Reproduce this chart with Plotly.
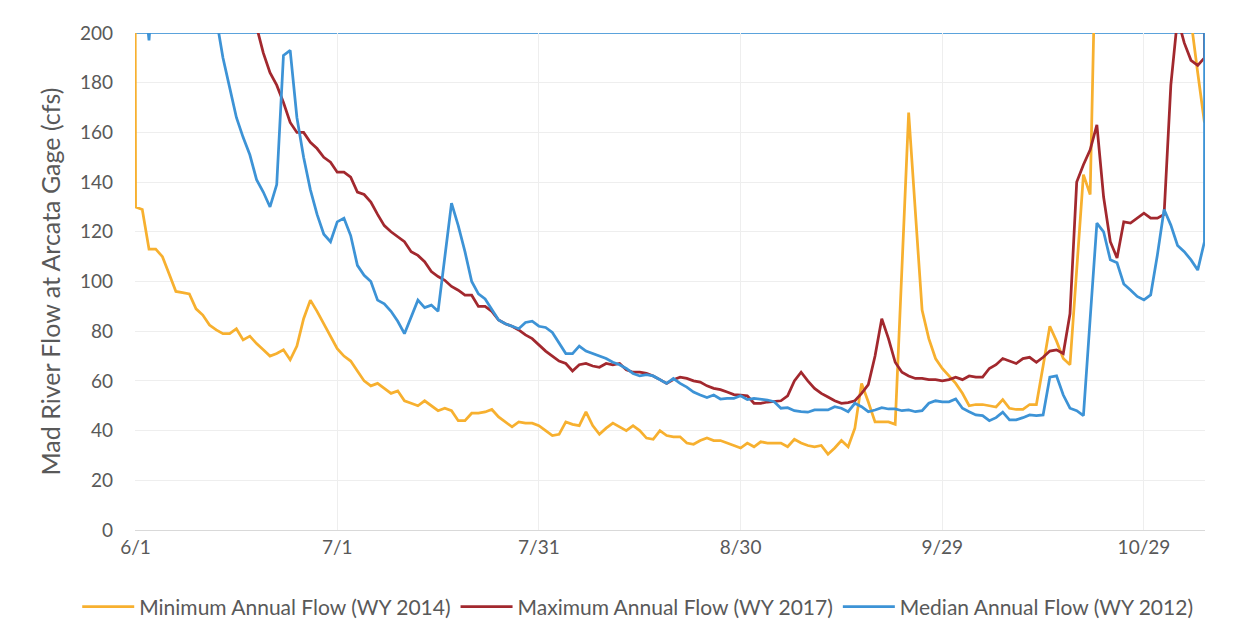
import pandas as pd
import plotly.graph_objects as go

# Daily dates 5/31 .. 11/8 (axis shows 6/1 .. 11/7; edge days carry off-scale values)
dates = pd.date_range("2014-05-31", "2014-11-08", freq="D")

# Minimum Annual Flow (WY 2014), cfs
min_flow = [1500,
    130, 129, 113, 113, 110, 103, 96, 95.5, 95, 89, 86.5, 82.5, 80.5, 79, 79, 81, 76.5, 78, 75, 72.5,
    70, 71, 72.5, 68.5, 74, 85, 92.5, 88, 83, 78, 73,
    70, 68, 64, 60, 58, 59, 57, 55, 56, 52, 51, 50, 52, 50, 48, 49, 48, 44, 44, 47,
    47, 47.5, 48.5, 45.5, 43.5, 41.5, 43.5, 43, 43, 42,
    40, 38, 38.5, 43.5, 42.5, 42, 47.5, 42, 38.5, 41, 43, 41.5, 40, 42, 40, 37, 36.5, 40, 38, 37.5,
    37.5, 35, 34.5, 36, 37, 36, 36, 35, 34, 33,
    35, 33.5, 35.5, 35, 35, 35, 33.5, 36.5, 35, 34, 33.5, 34, 30.5, 33, 36, 33.5, 41, 59, 51.5, 43.5,
    43.5, 43.5, 42.5, 105, 168, 128, 88.5, 77, 69, 65,
    62, 59, 55, 50, 50.5, 50.5, 50, 49.5, 52.5, 49, 48.5, 48.5, 50.5, 50.5, 66, 82, 76, 69, 66.5, 105,
    143, 135, 300, 420, 510, 380, 460, 640, 720, 540, 430, 390, 470, 820, 610, 330,
    205, 184, 164, None]

# Maximum Annual Flow (WY 2017), cfs
max_flow = [450,
    420, 480, 520, 470, 430, 400, 380, 360, 340, 320, 300, 285, 270, 255, 245, 235, 225, 213, 202, 192,
    184, 179, 172, 164, 160, 160, 156, 153.5, 150, 148, 144,
    144, 142, 136, 135, 132, 127, 122.5, 120, 118, 116, 112, 110.5, 108, 104, 102, 100.5, 98, 96.5, 94.5, 94.5,
    90, 90, 88, 84.5, 83, 82, 80.5, 78.5, 77, 74.5,
    72, 70, 68, 67, 64, 66.5, 67, 66, 65.5, 67, 66.5, 67, 64.5, 63.5, 63.5, 63, 62, 60.5, 59, 60.5,
    61.5, 61, 60, 59.5, 58, 57, 56.5, 55.5, 54.5, 54.3,
    54, 51, 51, 51.5, 51.6, 52, 54, 60, 63.5, 60, 57, 55, 53.5, 52, 51, 51.3, 52, 55, 58.5, 70,
    85, 77, 67.5, 63.5, 62, 61, 61, 60.5, 60.5, 60,
    60.5, 61.5, 60.5, 62, 61.5, 61.5, 65, 66.5, 69, 68, 67, 69, 69.5, 67.5, 69.5, 72, 72.5, 71, 87, 140,
    147, 153, 163, 134, 116, 109.5, 124, 123.5, 125.5, 127.5, 125.5, 125.5, 127, 179, 206, 196,
    189, 187, 190, 3000]

# Median Annual Flow (WY 2012), cfs
median_flow = [260,
    240, 225, 197, 235, 300, 360, 420, 450, 400, 350, 290, 240, 206, 190, 178, 166, 158, 151, 141, 136,
    130, 139, 191, 193, 166, 150, 137, 127, 119, 116, 124,
    125.5, 118.5, 106.5, 102.5, 100, 92.5, 91, 88, 84, 79, 86, 92.5, 89.5, 90.5, 88, 110, 131.5, 122.5, 112, 100,
    95, 93, 89, 84.5, 83, 82, 81, 83.5, 84, 82,
    81.5, 79.5, 75, 71, 71, 74, 72, 71, 70, 69, 67.5, 66.5, 65, 63, 62, 62.5, 62, 60.5, 59, 61,
    59, 57.5, 55.5, 54.3, 53.3, 54.3, 52.7, 53, 53, 54,
    52.5, 53, 52.7, 52.3, 51.6, 49, 49.2, 48, 47.6, 47.4, 48.3, 48.3, 48.3, 49.6, 49, 47.6, 51, 49.6, 47.6, 48.3,
    49.2, 48.7, 48.7, 48, 48.3, 47.6, 48, 51, 52, 51.6,
    51.6, 52.7, 49, 47.6, 46.3, 46, 44, 45.2, 47.4, 44.3, 44.3, 45.2, 46.3, 46, 46.3, 61.5, 62, 54.3, 49, 48,
    46, 85, 123.5, 120, 108.7, 107.5, 99, 96.6, 94, 92.6, 94.6, 110.7, 129, 122.7, 114.5, 112,
    108.7, 104.6, 116, 3000]

series = [
    ("Minimum Annual Flow (WY 2014)", min_flow, "#F7B02F"),
    ("Maximum Annual Flow (WY 2017)", max_flow, "#A2282E"),
    ("Median Annual Flow (WY 2012)", median_flow, "#3D93D6"),
]

y_ticks = list(range(0, 201, 20))

fig = go.Figure()
for name, vals, color in series:
    fig.add_trace(go.Scatter(x=dates, y=vals, mode="lines", name=name,
                             line=dict(color=color, width=2.75), connectgaps=False))

fig.add_shape(type="line", xref="paper", x0=0, x1=1, yref="y", y0=200, y1=200,
              line=dict(color="#5BA3DC", width=2), layer="below")

fig.update_layout(
    width=1249, height=635,
    margin=dict(l=127, r=52, t=25, b=113, autoexpand=False),
    plot_bgcolor="white", paper_bgcolor="white",
    font=dict(family="Lato", size=19, color="#595959"),
    showlegend=True,
    legend=dict(orientation="h", x=-0.054, xanchor="left", y=-0.155, yanchor="middle",
                font=dict(size=21, color="#595959"), itemwidth=52, tracegroupgap=0),
    xaxis=dict(
        range=["2014-05-31 22:00", "2014-11-07 02:00"],
        tick0="2014-06-01", dtick=86400000 * 30, tickformat="%-m/%-d",
        showgrid=True, gridcolor="#EEEEEE", gridwidth=1,
        showline=True, linecolor="#D9D9D9", linewidth=1,
        zeroline=False, ticks="", ticklabelstandoff=0,
    ),
    yaxis=dict(
        range=[0, 200], tickvals=y_ticks,
        showgrid=True, gridcolor="#EEEEEE", gridwidth=1,
        zeroline=False, showline=False, ticks="", ticklabelstandoff=21,
        title=dict(text="Mad River Flow at Arcata Gage (cfs)", font=dict(size=25, color="#595959"),
                   standoff=12),
    ),
)

fig.write_html("out.html")
